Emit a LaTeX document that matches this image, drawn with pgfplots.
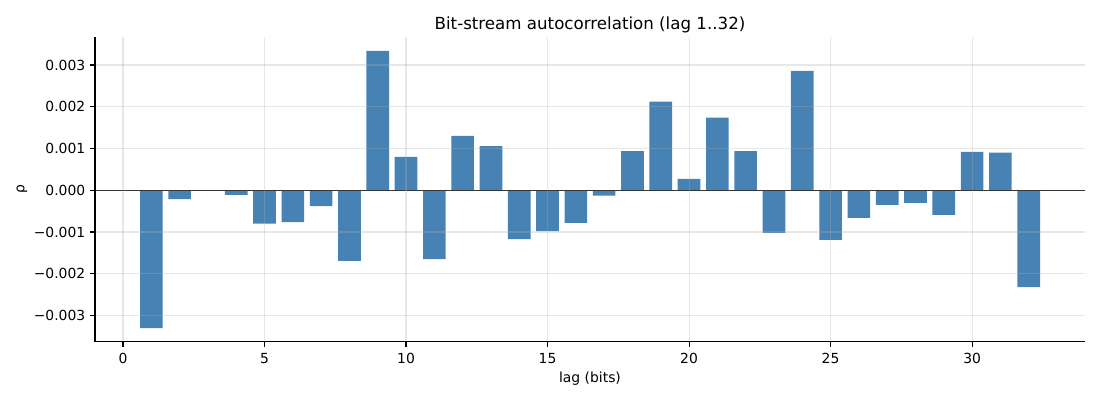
\documentclass[border=0pt]{standalone}
\usepackage{pgfplots}
\pgfplotsset{compat=1.18}
\usepackage{fontspec}
\setmainfont{DejaVu Sans}
\definecolor{steel}{HTML}{4682B4}
\definecolor{gridc}{HTML}{B0B0B0}
\begin{document}
\begin{tikzpicture}
\useasboundingbox (0,0) rectangle (792pt,288pt);
\begin{axis}[
  at={(68.4pt,41.8pt)}, anchor=south west,
  scale only axis, width=712.8pt, height=219.6pt,
  xmin=-0.99, xmax=33.99, ymin=-0.003632, ymax=0.003672,
  axis x line*=bottom, axis y line*=left,
  axis line style={-, line width=0.8pt},
  tick align=outside, major tick length=3.5pt,
  tick style={line width=0.8pt, black},
  xtick={0,5,10,15,20,25,30},
  ytick={-0.003,-0.002,-0.001,0,0.001,0.002,0.003},
  yticklabels={−0.003,−0.002,−0.001,0.000,0.001,0.002,0.003},
  scaled y ticks=false,
  /pgf/number format/assume math mode=true,
  ticklabel style={font=\fontsize{10}{12}\selectfont},
  xticklabel style={yshift=-1pt},
  grid=major,
  major grid style={line width=0.8pt, draw=gridc, opacity=0.3},
  axis on top,
  title={Bit-stream autocorrelation (lag 1..32)},
  title style={font=\fontsize{12}{14}\selectfont, at={(axis description cs:0.5,1.0125)}, anchor=center, inner sep=0pt},
  xlabel={lag (bits)},
  xlabel style={font=\fontsize{10}{12}\selectfont, at={(axis description cs:0.5,-0.121)}, anchor=center, inner sep=0pt},
  ylabel={ρ},
  ylabel style={font=\fontsize{10}{12}\selectfont, at={(axis description cs:-0.0738,0.5)}, anchor=center, inner sep=0pt},
]
\addplot[ybar, bar width=0.8, fill=steel, draw=none] coordinates {
(1,-0.00330) (2,-0.00021) (3,0.0) (4,-0.00011) (5,-0.00080) (6,-0.00076)
(7,-0.00038) (8,-0.00169) (9,0.00334) (10,0.00080) (11,-0.00165) (12,0.00130)
(13,0.00106) (14,-0.00117) (15,-0.00098) (16,-0.00078) (17,-0.00013) (18,0.00094)
(19,0.00212) (20,0.00027) (21,0.00174) (22,0.00094) (23,-0.00102) (24,0.00286)
(25,-0.00119) (26,-0.00066) (27,-0.00035) (28,-0.00030) (29,-0.00059) (30,0.00092)
(31,0.00090) (32,-0.00232)
};
\addplot[black, line width=0.8pt, forget plot] coordinates {(-0.99,0) (33.99,0)};
\end{axis}
\end{tikzpicture}
\end{document}
